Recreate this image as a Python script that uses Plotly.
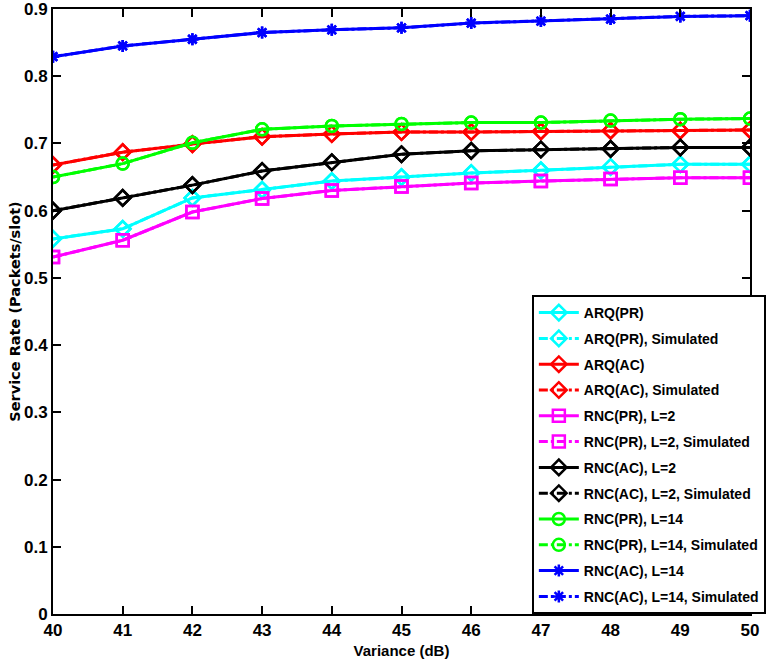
import plotly.graph_objects as go

# Variance (dB)
variance = [40, 41, 42, 43, 44, 45, 46, 47, 48, 49, 50]

# Service rate (packets/slot), analytical curves
arq_pr = [0.558, 0.573, 0.619, 0.631, 0.644, 0.650, 0.656, 0.660, 0.665, 0.669, 0.669]
arq_ac = [0.668, 0.687, 0.699, 0.710, 0.714, 0.717, 0.717, 0.718, 0.719, 0.719, 0.720]
rnc_pr_l2 = [0.531, 0.556, 0.598, 0.618, 0.630, 0.636, 0.641, 0.644, 0.647, 0.649, 0.649]
rnc_ac_l2 = [0.600, 0.619, 0.638, 0.659, 0.672, 0.684, 0.689, 0.691, 0.692, 0.694, 0.694]
rnc_pr_l14 = [0.650, 0.670, 0.701, 0.721, 0.726, 0.729, 0.731, 0.731, 0.734, 0.736, 0.737]
rnc_ac_l14 = [0.829, 0.845, 0.855, 0.865, 0.869, 0.872, 0.879, 0.882, 0.885, 0.889, 0.890]

# Simulated counterparts
arq_pr_sim = [0.558, 0.573, 0.619, 0.631, 0.644, 0.650, 0.656, 0.660, 0.665, 0.669, 0.669]
arq_ac_sim = [0.668, 0.687, 0.699, 0.710, 0.714, 0.717, 0.717, 0.718, 0.719, 0.719, 0.720]
rnc_pr_l2_sim = [0.531, 0.556, 0.598, 0.618, 0.630, 0.636, 0.641, 0.644, 0.647, 0.649, 0.649]
rnc_ac_l2_sim = [0.600, 0.619, 0.638, 0.659, 0.672, 0.684, 0.689, 0.691, 0.692, 0.694, 0.694]
rnc_pr_l14_sim = [0.650, 0.670, 0.701, 0.721, 0.726, 0.729, 0.731, 0.731, 0.734, 0.736, 0.737]
rnc_ac_l14_sim = [0.829, 0.845, 0.855, 0.865, 0.869, 0.872, 0.879, 0.882, 0.885, 0.889, 0.890]

x_ticks = [40, 41, 42, 43, 44, 45, 46, 47, 48, 49, 50]
y_ticks = [0, 0.1, 0.2, 0.3, 0.4, 0.5, 0.6, 0.7, 0.8, 0.9]
y_tick_text = ["0", "0.1", "0.2", "0.3", "0.4", "0.5", "0.6", "0.7", "0.8", "0.9"]

series = [
    ("ARQ(PR)", arq_pr, "#00FFFF", "diamond-open", "solid"),
    ("ARQ(PR), Simulated", arq_pr_sim, "#00FFFF", "diamond-open", "dashdot"),
    ("ARQ(AC)", arq_ac, "#FF0000", "diamond-open", "solid"),
    ("ARQ(AC), Simulated", arq_ac_sim, "#FF0000", "diamond-open", "dashdot"),
    ("RNC(PR), L=2", rnc_pr_l2, "#FF00FF", "square-open", "solid"),
    ("RNC(PR), L=2, Simulated", rnc_pr_l2_sim, "#FF00FF", "square-open", "dashdot"),
    ("RNC(AC), L=2", rnc_ac_l2, "#000000", "diamond-open", "solid"),
    ("RNC(AC), L=2, Simulated", rnc_ac_l2_sim, "#000000", "diamond-open", "dashdot"),
    ("RNC(PR), L=14", rnc_pr_l14, "#00FF00", "circle-open", "solid"),
    ("RNC(PR), L=14, Simulated", rnc_pr_l14_sim, "#00FF00", "circle-open", "dashdot"),
    ("RNC(AC), L=14", rnc_ac_l14, "#0000FF", "asterisk-open", "solid"),
    ("RNC(AC), L=14, Simulated", rnc_ac_l14_sim, "#0000FF", "asterisk-open", "dashdot"),
]

fig = go.Figure()
for i, (name, vals, color, symbol, dash) in enumerate(series):
    fig.add_trace(go.Scatter(
        x=variance, y=vals, name=name, mode="lines+markers",
        legendgroup=f"g{i}",
        line=dict(color=color, width=3, dash=dash),
        marker=dict(symbol=symbol, size=12 if symbol != "asterisk-open" else 10,
                    color=color, line=dict(color=color, width=2.5)),
    ))

narrow = "Liberation Sans Narrow, Arial Narrow, Liberation Sans, Arial, sans-serif"
wide = "DejaVu Sans, Liberation Sans, Arial, sans-serif"

fig.update_layout(
    width=770, height=666,
    margin=dict(l=53, r=20, t=9, b=52, autoexpand=False),
    paper_bgcolor="white", plot_bgcolor="white",
    font=dict(family=narrow, size=15, color="black"),
    showlegend=True,
    legend=dict(
        x=0.687, y=0.0, xanchor="left", yanchor="bottom",
        bgcolor="white", bordercolor="black", borderwidth=2,
        font=dict(family=narrow, size=14, color="black", weight="bold"),
        itemwidth=40, tracegroupgap=4.6,
    ),
    xaxis=dict(
        range=[40, 50], tickvals=x_ticks, ticks="inside", ticklen=8,
        tickwidth=1.5, tickcolor="black", showgrid=False, zeroline=False,
        showline=True, linecolor="black", linewidth=2, mirror="ticks",
        ticklabeloverflow="allow",
        tickfont=dict(family=narrow, size=17, weight="bold"),
        title=dict(text="<b>Variance (dB)</b>", standoff=6,
                   font=dict(family=narrow, size=15)),
    ),
    yaxis=dict(
        range=[0, 0.9], tickvals=y_ticks, ticktext=y_tick_text, ticks="inside",
        ticklen=8, tickwidth=1.5, tickcolor="black", showgrid=False,
        zeroline=False, showline=True, linecolor="black", linewidth=2,
        mirror="ticks", ticklabeloverflow="allow",
        tickfont=dict(family=narrow, size=17, weight="bold"),
        title=dict(text="<b>Service Rate (Packets/slot)</b>", standoff=0,
                   font=dict(family=wide, size=14.5)),
    ),
)

fig.write_html("out.html")
